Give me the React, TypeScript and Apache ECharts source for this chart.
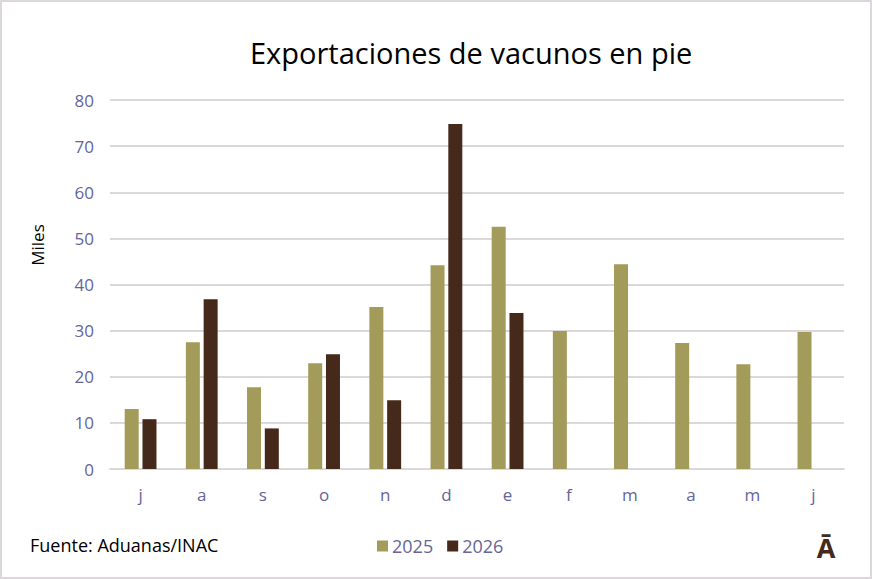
import React, { useEffect, useRef } from "react";
import * as echarts from "echarts";

const categories = ["j", "a", "s", "o", "n", "d", "e", "f", "m", "a", "m", "j"];
const values2025 = [13.0, 27.5, 17.7, 22.9, 35.1, 44.2, 52.5, 29.9, 44.4, 27.3, 22.7, 29.7];
const values2026 = [10.8, 36.8, 8.8, 24.9, 14.9, 74.8, 33.8, null, null, null, null, null];
const seriesNames = ["2025", "2026"];
const yTicks = { min: 0, max: 80, interval: 10 };

const FONT = "'Open Sans', 'Noto Sans', sans-serif";
const AXIS_COLOR = "#65659a";

export default function App() {
  const ref = useRef<HTMLDivElement>(null);
  useEffect(() => {
    if (!ref.current) return;
    const chart = echarts.init(ref.current, undefined, { renderer: "svg" });
    chart.setOption({
      animation: false,
      backgroundColor: "#ffffff",
      title: {
        text: "Exportaciones de vacunos en pie",
        left: 250,
        top: 38,
        padding: 0,
        textStyle: { fontFamily: FONT, fontSize: 29, fontWeight: "normal", color: "#000000" },
      },
      grid: { left: 110, right: 28, top: 100, bottom: 110, containLabel: false },
      legend: {
        left: 372,
        top: 532,
        icon: "rect",
        itemWidth: 11,
        itemHeight: 11,
        itemGap: 14,
        textStyle: { fontFamily: FONT, fontSize: 18, color: AXIS_COLOR, padding: [0, 0, 0, -1] },
        data: seriesNames,
      },
      xAxis: {
        type: "category",
        data: categories,
        axisLine: { show: true, lineStyle: { color: "#dbd7db", width: 2 } },
        axisTick: { show: false },
        axisLabel: { color: AXIS_COLOR, fontFamily: FONT, fontSize: 17, margin: 17 },
      },
      yAxis: {
        type: "value",
        min: yTicks.min,
        max: yTicks.max,
        interval: yTicks.interval,
        axisLine: { show: false },
        axisTick: { show: false },
        axisLabel: { color: AXIS_COLOR, fontFamily: FONT, fontSize: 17, margin: 16 },
        splitLine: { lineStyle: { color: "#dbd7db", width: 2 } },
      },
      series: [
        {
          name: seriesNames[0],
          type: "bar",
          data: values2025,
          barWidth: 14,
          barGap: "27%",
          itemStyle: { color: "#a39b5a" },
        },
        {
          name: seriesNames[1],
          type: "bar",
          data: values2026,
          barWidth: 14,
          barGap: "27%",
          itemStyle: { color: "#45291a" },
        },
      ],
      graphic: [
        {
          type: "rect",
          shape: { x: 1, y: 1, width: 870, height: 577 },
          style: { fill: "none", stroke: "#dbd7db", lineWidth: 2 },
          silent: true,
        },
        {
          type: "text",
          x: 37,
          y: 245,
          rotation: Math.PI / 2,
          style: {
            text: "Miles",
            fontFamily: FONT,
            fontSize: 17,
            fill: "#000000",
            textAlign: "center",
            textVerticalAlign: "middle",
          },
        },
        {
          type: "text",
          x: 30,
          y: 545,
          style: {
            text: "Fuente: Aduanas/INAC",
            fontFamily: FONT,
            fontSize: 18,
            fill: "#000000",
            textAlign: "left",
            textVerticalAlign: "middle",
          },
        },
        {
          type: "text",
          x: 826,
          y: 547,
          style: {
            text: "Ā",
            fontFamily: "'Open Sans', 'DejaVu Sans', sans-serif",
            fontSize: 27,
            fontWeight: "bold",
            fill: "#45291a",
            textAlign: "center",
            textVerticalAlign: "middle",
          },
        },
      ],
    });
    return () => chart.dispose();
  }, []);
  return (
    <div
      ref={ref}
      style={{
        position: "fixed",
        left: 0,
        top: 0,
        width: 872,
        height: 579,
        background: "#fff",
      }}
    />
  );
}
